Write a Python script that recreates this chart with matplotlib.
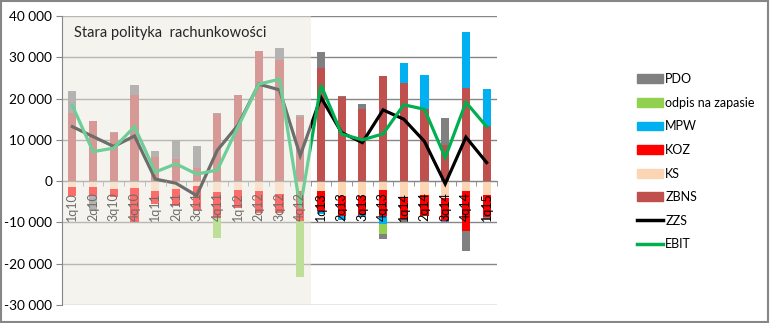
import numpy as np
import matplotlib
matplotlib.use("Agg")
import matplotlib.pyplot as plt
from matplotlib.patches import Rectangle, Patch
from matplotlib.lines import Line2D
from matplotlib.ticker import FuncFormatter

plt.rcParams['font.family'] = ['Lato', 'DejaVu Sans']

quarters = ['1q10', '2q10', '3q10', '4q10', '1q11', '2q11', '3q11', '4q11',
            '1q12', '2q12', '3q12', '4q12', '1q13', '2q13', '3q13', '4q13',
            '1q14', '2q14', '3q14', '4q14', '1q15']

zbns = [16600, 14600, 11600, 20900, 5900, 5400, 3300, 16300, 20900, 31500, 29300,
        15500, 27400, 20300, 17500, 25450, 23850, 17500, 8800, 22650, 13400]
ks = [-1300, -1300, -1800, -1600, -2400, -1850, -1150, -2750, -2100, -2500, -3000,
      -2350, -2270, -3550, -3550, -2100, -3950, -3450, -4100, -2500, -3450]
koz = [-2250, -2400, -2150, -8400, -3100, -4100, -5950, -6200, -4500, -5250, -4600,
       -7400, -5080, -5000, -4600, -6300, -5150, -5100, -5650, -9500, -5300]
mpw = [0, 0, 0, 0, 0, 0, 0, 0, 0, 0, 0,
       0, -550, -800, -650, -1900, 4800, 8200, -200, 13450, 8950]
odpis = [0, 0, 0, 0, 0, 0, 0, -4750, 0, 0, 0,
         -13550, 0, 0, 0, -2450, 0, 0, 0, 0, 0]
pdo = [5300, -3650, 300, 2300, 1450, 4500, 5300, 200, 0, 0, 3000,
       550, 3870, 330, 1200, -1200, -800, 0, 6500, -5000, -570]

zzs = [13200, 10800, 8400, 10950, 500, -500, -3500, 7500, 13600, 23500, 22100,
       6200, 20300, 11750, 9350, 17250, 15000, 9600, -650, 10650, 4500]
ebit = [18300, 7150, 8000, 13200, 2200, 4200, 1700, 2700, 13200, 23500, 24700,
        -6500, 23300, 11400, 10000, 11450, 18500, 17400, 5700, 19100, 13200]

n_old = 12  # quarters under the old accounting policy

colors = {
    'PDO': '#808080',
    'odpis na zapasie': '#92D050',
    'MPW': '#00B0F0',
    'KOZ': '#FF0000',
    'KS': '#FCD5B5',
    'ZBNS': '#C0504D',
    'ZZS': '#000000',
    'EBIT': '#00B050',
}
beige = '#F4F3EE'
grey = '#868686'

fig = plt.figure(figsize=(7.7, 3.23), dpi=100)
ax = fig.add_axes([62 / 770, 1 - 305 / 323, 435 / 770, 289 / 323])

x = np.arange(len(quarters))
stack = [('ZBNS', zbns), ('KS', ks), ('KOZ', koz), ('MPW', mpw),
         ('odpis na zapasie', odpis), ('PDO', pdo)]
pos = np.zeros(len(x))
neg = np.zeros(len(x))
for name, vals in stack:
    v = np.array(vals, dtype=float)
    bottom = np.where(v >= 0, pos, neg)
    ax.bar(x, v, 0.39, bottom=bottom, color=colors[name], linewidth=0, zorder=2)
    pos += np.clip(v, 0, None)
    neg += np.clip(v, None, 0)

ax.plot(x, zzs, color=colors['ZZS'], lw=2.3, zorder=3, solid_joinstyle='miter')
ax.plot(x, ebit, color=colors['EBIT'], lw=2.3, zorder=3, solid_joinstyle='miter')

ax.set_xlim(-0.5, len(x) - 0.5)
ax.set_ylim(-30000, 40000)
ax.set_yticks(np.arange(-30000, 40001, 10000))
ax.yaxis.set_major_formatter(FuncFormatter(lambda v, p: f'{int(v):,}'.replace(',', ' ')))
ax.tick_params(axis='y', length=4, color=grey, labelsize=9.8, pad=3)
ax.yaxis.grid(True, color=grey, lw=1)
ax.yaxis.set_zorder(0.5)

# old-policy period: beige backdrop plus a translucent veil on top
ax.add_patch(Rectangle((-0.5, -30000), n_old, 70000, facecolor=beige, lw=0, zorder=0.2))
ax.add_patch(Rectangle((-0.5, -30000), n_old, 70000, facecolor=beige, lw=0,
                       alpha=0.45, zorder=7, clip_on=False))
ax.text(0.1, 36000, 'Stara polityka  rachunkowości', fontsize=10.5, color='#262626',
        va='center', ha='left', zorder=8)

ax.spines['top'].set_visible(False)
ax.spines['right'].set_visible(False)
ax.spines['left'].set_color(grey)
ax.spines['left'].set_zorder(8)
ax.spines['bottom'].set_position(('data', 0))
ax.spines['bottom'].set_color(grey)

ax.set_xticks(x)
ax.set_xticklabels(quarters, rotation=90, va='top', ha='center')
ax.set_xticks(np.arange(-0.5, len(x)), minor=True)
ax.tick_params(axis='x', which='major', length=0, labelsize=9, pad=8)
ax.tick_params(axis='x', which='minor', length=3.5, color=grey, direction='out')
ax.xaxis.set_zorder(6)

handles = [Patch(color=colors[k]) for k in ['PDO', 'odpis na zapasie', 'MPW', 'KOZ', 'KS', 'ZBNS']]
handles += [Line2D([], [], color=colors['ZZS'], lw=2.5), Line2D([], [], color=colors['EBIT'], lw=2.5)]
labels = ['PDO', 'odpis na zapasie', 'MPW', 'KOZ', 'KS', 'ZBNS', 'ZZS', 'EBIT']
fig.legend(handles, labels, loc='upper left', bbox_to_anchor=(632 / 770, 1 - 68 / 323),
           frameon=False, fontsize=9, handlelength=2.1, handleheight=0.7,
           handletextpad=0.15, labelspacing=0.93, borderaxespad=0)

fig.add_artist(Rectangle((1 / 770, 1 / 323), 767 / 770, 321 / 323, transform=fig.transFigure,
                         fill=False, edgecolor=grey, lw=1.5))

fig.savefig('out.png', dpi=100)
